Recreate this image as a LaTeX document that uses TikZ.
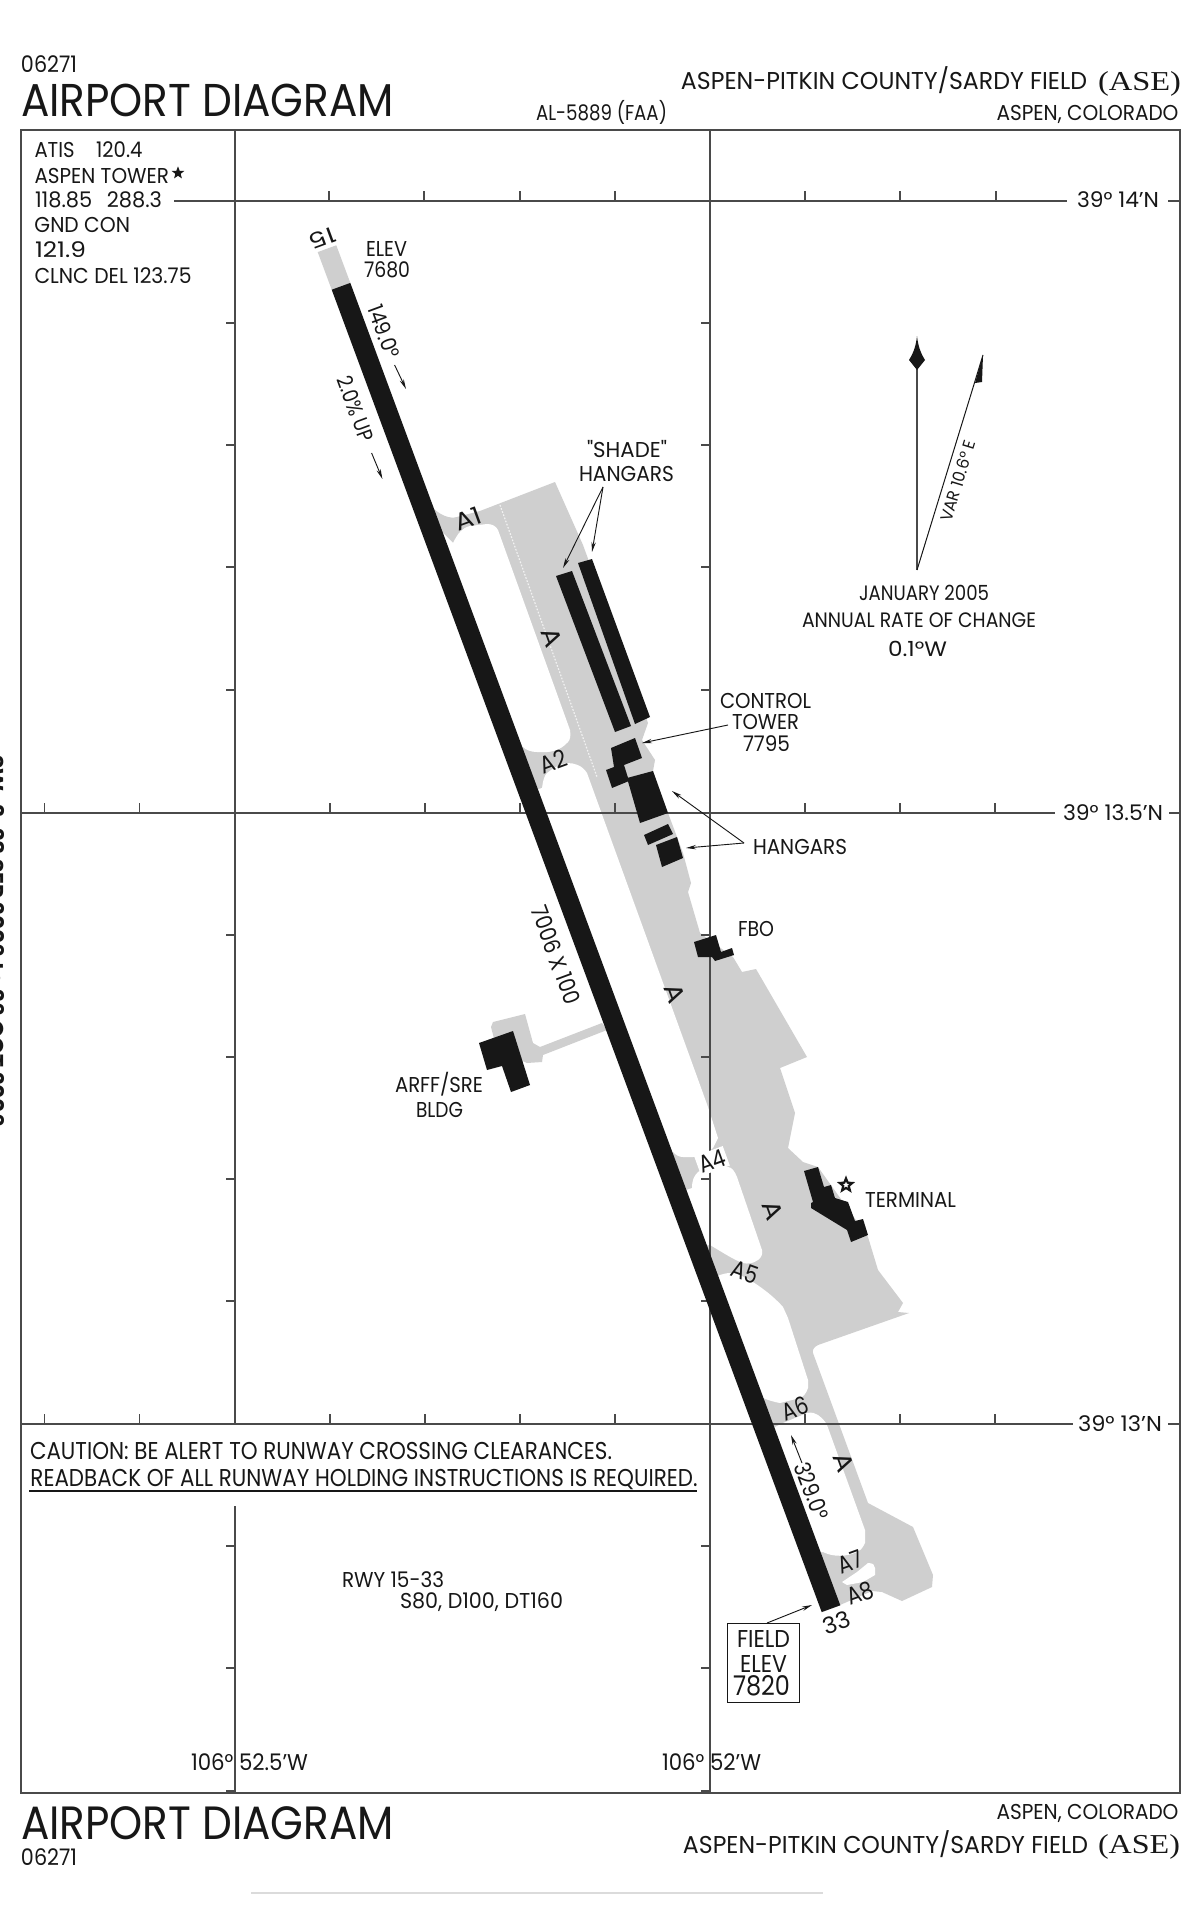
\documentclass[tikz,border=0pt]{standalone}
\usepackage{graphicx}
\usepackage{fontspec}
\setmainfont{Poppins}
\newfontfamily\asefont{Liberation Serif}
\newfontfamily\quotefont{Poppins}
\usetikzlibrary{arrows.meta,shapes.geometric}
\definecolor{ink}{HTML}{171717}
\definecolor{rule}{HTML}{4A4A4A}
\definecolor{pave}{HTML}{CFCFCF}
\newdimen\pxu \pxu=0.6pt
\newcommand\tx[3]{\fontsize{#1}{#1}\selectfont\resizebox{#2\pxu}{\height}{#3}}
\tikzset{
  lab/.style={inner sep=0pt,outer sep=0pt,text=ink,anchor=base west},
  labr/.style={lab,anchor=base east},
  rot/.style={inner sep=0pt,outer sep=0pt,text=ink,anchor=center,rotate=#1},
  grid/.style={draw=rule,line width=0.85pt},
  tick/.style={draw=rule,line width=0.8pt},
  paved/.style={fill=pave,draw=none},
  hole/.style={fill=white,draw=none},
  bldg/.style={fill=ink,draw=none},
  lead/.style={draw=ink,line width=0.55pt,-{Stealth[length=6pt,width=2.6pt]}},
}
\begin{document}
\begin{tikzpicture}[x=0.6pt,y=-0.6pt]
\useasboundingbox (0,0) rectangle (1200,1922);
\fill[white] (0,0) rectangle (1200,1922);

% pavement
\path[paved] (826,1608) -- (430,505) .. controls (440,516) and (450,519) .. (457,517) -- (480,511) -- (555,482) -- (583,545)
  -- (648,723) -- (642,740) -- (655,760) -- (653,771) -- (668,813) -- (683,853) -- (691,883) -- (688,892) -- (700,933)
  -- (733,957) -- (742,972) -- (756,969) -- (807,1057) -- (780,1068) -- (795,1113) -- (788,1148) -- (803,1162)
  -- (818,1167) -- (868,1237) -- (878,1270) -- (903,1303) -- (898,1312) -- (909,1313) -- (818,1345)
  .. controls (814,1347) and (812,1350) .. (813,1353) -- (868,1503) -- (913,1527) -- (933,1575) -- (932,1587) -- (902,1601)
  -- (882,1592) -- (872,1591) -- (840,1605) -- cycle;
% areas clear of pavement, runway side
\path[hole] (440,530) -- (453,543) .. controls (458,533) and (462,528) .. (470,526) -- (487,524) .. controls (492,524) and (496,526) .. (498,530)
  -- (570,730) .. controls (571,736) and (570,740) .. (568,742) .. controls (560,751) and (550,753) .. (537,752) .. controls (531,752) and (526,750) .. (523,747) -- (515,745) -- cycle;
\path[hole] (535,790) -- (542,788) .. controls (543,781) and (544,776) .. (547,773) .. controls (553,768) and (560,764) .. (567,763) .. controls (574,763) and (582,765) .. (587,773)
  -- (708,1107) -- (718,1138) -- (713,1148) .. controls (704,1156) and (695,1158) .. (683,1157) .. controls (679,1157) and (676,1155) .. (673,1152) -- (665,1150) -- cycle;
\path[hole] (680,1192) -- (692,1188) .. controls (692,1180) and (694,1176) .. (698,1172) .. controls (704,1168) and (715,1167) .. (728,1167) .. controls (732,1167) and (735,1172) .. (737,1177)
  -- (762,1250) .. controls (763,1254) and (761,1258) .. (758,1260) .. controls (752,1264) and (748,1264) .. (743,1263) .. controls (734,1260) and (722,1252) .. (710,1245) -- (700,1245) -- cycle;
\path[hole] (712,1278) -- (720,1275) .. controls (726,1273) and (728,1273) .. (733,1273) .. controls (745,1275) and (770,1292) .. (783,1307) -- (788,1318) -- (808,1380) -- (808,1388)
  .. controls (806,1394) and (803,1397) .. (800,1398) -- (780,1403) .. controls (774,1402) and (768,1400) .. (763,1398) -- (755,1398) -- cycle;
\path[hole] (768,1430) -- (775,1427) -- (783,1423) -- (807,1413) .. controls (812,1412) and (815,1413) .. (818,1415) .. controls (822,1418) and (825,1421) .. (827,1425)
  -- (865,1530) -- (865,1543) .. controls (862,1549) and (860,1551) .. (857,1552) .. controls (846,1557) and (833,1557) .. (823,1552) -- (812,1552) -- cycle;
\path[hole] (842,1582) -- (857,1572) -- (868,1563) .. controls (873,1563) and (875,1565) .. (875,1568) -- (875,1575) -- (863,1582) -- (847,1585) -- cycle;
% taxiway to ARFF/SRE
\path[paved] (607,1030) -- (543,1055) -- (542,1062) -- (527,1063) -- (497,1050) -- (491,1027) -- (493,1022) -- (525,1014) -- (533,1043) -- (540,1047) -- (602,1023) -- cycle;
% taxiway centre marking
\draw[white,line width=0.7pt,dash pattern=on 1pt off 1pt,opacity=0.75] (500,505) -- (597,777);

% grid
\draw[grid] (235,130) -- (235,1424) (235,1506) -- (235,1793);
\draw[grid] (710,130) -- (710,1793);
\draw[grid] (174,201) -- (1067,201) (1168,201) -- (1180,201);
\draw[grid] (21,813) -- (1055,813) (1169,813) -- (1180,813);
\draw[grid] (21,1424) -- (1073,1424) (1168,1424) -- (1180,1424);
\foreach \tickx in {329,424,520,615,710,805,900,996}
  \draw[tick] (\tickx,201) -- ++(0,-10);
\foreach \tickx in {44.5,139.5,235,330,425,520,615,710,805,900,995} {
  \draw[tick] (\tickx,813) -- ++(0,-10);
  \draw[tick] (\tickx,1424) -- ++(0,-10);
}
\foreach \ticky in {323,445,567,690,935,1057,1179,1301,1546,1668,1791} {
  \draw[tick] (235,\ticky) -- ++(-9,0);
  \draw[tick] (710,\ticky) -- ++(-9,0);
}
% frame
\draw[draw=rule,line width=1pt] (21,130) rectangle (1180,1793);

% buildings
\path[bldg] (556,576) -- (572,571) -- (631,726) -- (615,732) -- cycle;
\path[bldg] (578,563) -- (592,559) -- (650,717) -- (635,724) -- cycle;
\path[bldg] (611,748) -- (635,738) -- (642,758) -- (624,765) -- (629,781) -- (612,788) -- (606,770) -- (614,767) -- cycle;
\path[bldg] (627,778) -- (653,771) -- (668,813) -- (640,823) -- cycle;
\path[bldg] (644,835) -- (668,824) -- (673,834) -- (648,845) -- cycle;
\path[bldg] (656,845) -- (677,837) -- (683,858) -- (662,867) -- cycle;
\path[bldg] (694,942) -- (716,935) -- (721,952) -- (732,948) -- (734,955) -- (715,961) -- (712,957) -- (698,957) -- cycle;
\path[bldg] (804,1171) -- (818,1167) -- (824,1187) -- (831,1185) -- (835,1198) -- (848,1202) -- (855,1221) -- (863,1219) -- (868,1235) -- (851,1242) -- (847,1230) -- (811,1208) -- (811,1203) -- (813,1202) -- cycle;
\path[bldg] (479,1043) -- (513,1031) -- (530,1085) -- (511,1092) -- (502,1066) -- (487,1070) -- cycle;

% runway
\path[paved] (317.7,252.1) -- (336.3,245.3) -- (350.3,282.9) -- (331.7,289.7) -- cycle;
\path[fill=ink] (331.7,289.7) -- (350.3,282.9) -- (840.3,1605.3) -- (821.7,1612.1) -- cycle;

% compass
\draw[draw=rule,line width=0.7pt] (917,570) -- (917,365);
\path[fill=ink] (917,336) .. controls (918,345) and (920,352) .. (925,360) -- (917,370) -- (909,360) .. controls (914,352) and (916,345) .. (917,336) -- cycle;
\draw[draw=ink,line width=0.6pt] (917,570) -- (983,355);
\path[fill=ink] (983,355) -- (975,383) -- (982,382) -- cycle;
\node[rot=73] (var) at (958,481) {\tx{10}{84}{VAR 10.6° E}};
\node[lab,anchor=base] (jan) at (924,600) {\tx{12.5}{130}{JANUARY 2005}};
\node[lab,anchor=base] (annual) at (919,627) {\tx{12.5}{234}{ANNUAL RATE OF CHANGE}};
\node[lab,anchor=base] (rate) at (917.5,656) {\tx{12.5}{59}{0.1°W}};

% header
\node[lab] (num1) at (21,72.7) {\tx{13.7}{56}{06271}};
\node[lab] (title1) at (21,116.7) {\tx{27.6}{373}{AIRPORT DIAGRAM}};
\node[lab] (al) at (536,120.5) {\tx{12.9}{131}{AL-5889 (FAA)}};
\node[labr] (name1) at (1087,90) {\tx{14.6}{406}{ASPEN-PITKIN COUNTY/SARDY FIELD}};
\node[labr] (ase1) at (1181,91) {\asefont\tx{16.4}{83}{(ASE)}};
\node[labr] (city1) at (1178.5,120.5) {\tx{12.9}{182}{ASPEN, COLORADO}};

% footer
\node[lab] (title2) at (21,1839) {\tx{28}{373}{AIRPORT DIAGRAM}};
\node[lab] (num2) at (21,1865) {\tx{13.7}{56}{06271}};
\node[labr] (city2) at (1178.5,1819) {\tx{12.9}{182}{ASPEN, COLORADO}};
\node[labr] (name2) at (1088,1853) {\tx{14.6}{405}{ASPEN-PITKIN COUNTY/SARDY FIELD}};
\node[labr] (ase2) at (1180,1853) {\asefont\tx{16.4}{82}{(ASE)}};
\draw[draw=black!14,line width=0.8pt] (251,1893) -- (823,1893);

% communications
\node[lab] (atis) at (34.5,158) {\tx{12.9}{108}{ATIS\hspace{1.1em}120.4}};
\node[lab] (twr) at (34.5,183.3) {\tx{12.9}{134.5}{ASPEN TOWER}};
\node[star,star points=5,star point ratio=2.4,fill=ink,inner sep=0pt,minimum size=8pt] (twrstar) at (178,173) {};
\node[lab] (freq) at (35,208) {\tx{12.9}{127}{118.85\hspace{.7em}288.3}};
\node[lab] (gnd) at (34.5,233) {\tx{12.9}{95.5}{GND CON}};
\node[lab] (gndf) at (35,258) {\tx{12.9}{51}{121.9}};
\node[lab] (clnc) at (34.5,283) {\tx{12.9}{157}{CLNC DEL 123.75}};

% latitude, longitude
\node[lab] (lat1) at (1077,207.5) {\tx{12.9}{82}{39° 14'N}};
\node[lab] (lat2) at (1063,820) {\tx{12.9}{100}{39° 13.5'N}};
\node[lab] (lat3) at (1078,1431) {\tx{12.9}{84}{39° 13'N}};
\node[lab] (lon1) at (191,1770) {\tx{13.7}{117}{106° 52.5'W}};
\node[lab] (lon2) at (662,1770) {\tx{13.7}{99}{106° 52'W}};

% caution, runway data
\node[lab] (c1) at (30,1459) {\tx{14.6}{582}{CAUTION: BE ALERT TO RUNWAY CROSSING CLEARANCES.}};
\node[lab] (c2) at (30.5,1486) {\tx{14.6}{667}{READBACK OF ALL RUNWAY HOLDING INSTRUCTIONS IS REQUIRED.}};
\draw[draw=ink,line width=0.85pt] (29,1491) -- (697,1491);
\node[lab] (rwy) at (342,1587) {\tx{12.9}{102}{RWY 15-33}};
\node[lab] (wt) at (400,1608) {\tx{12.9}{163}{S80, D100, DT160}};

% runway labels
\node[rot=200.3] (r15) at (322.6,238) {\tx{12.9}{26}{15}};
\node[rot=20.3] (r33) at (837,1623) {\tx{13.7}{28}{33}};
\node[lab] (elev) at (366,256.7) {\tx{12.9}{41}{ELEV}};
\node[lab] (elevn) at (364,277.3) {\tx{12.9}{46}{7680}};
\node[rot=-69.7] (hdg1) at (384,331.5) {\tx{12.9}{55}{149.0°}};
\coordinate (hdg1a) at (394.6,365);
\coordinate (hdg1b) at (406,389);
\draw[lead] (hdg1a) -- (hdg1b);
\node[rot=-69.7] (grad) at (355.7,409) {\tx{12.9}{68}{2.0\% UP}};
\coordinate (grada) at (371.6,453);
\coordinate (gradb) at (382.4,479);
\draw[lead] (grada) -- (gradb);
\node[rot=-69.7] (dim) at (556,955) {\tx{13.7}{103}{7006 X 100}};
\node[rot=-69.7] (hdg2) at (812,1491) {\tx{13.7}{59}{329.0°}};
\coordinate (hdg2a) at (802,1463);
\coordinate (hdg2b) at (791,1435);
\draw[lead] (hdg2a) -- (hdg2b);

% taxiway labels
\node[rot=20] (a1) at (468,519) {\tx{14.6}{27}{A1}};
\node[rot=20] (a2) at (553,761) {\tx{14.6}{27}{A2}};
\node[rot=20,fill=white,inner sep=1pt] (a4) at (712,1161) {\tx{14.6}{27}{A4}};
\node[rot=-20] (a5) at (745,1272) {\tx{14.6}{27}{A5}};
\node[rot=20] (a6) at (795,1408) {\tx{14.6}{27}{A6}};
\node[rot=20] (a7) at (850,1562) {\tx{14.6}{25}{A7}};
\node[rot=20] (a8) at (860,1593) {\tx{14.6}{27}{A8}};
\node[rot=-70] (ta) at (552,637) {\tx{15}{19}{A}};
\node[rot=-70] (tb) at (675,993) {\tx{15}{19}{A}};
\node[rot=-70] (tc) at (773,1210) {\tx{15}{19}{A}};
\node[rot=-70] (td) at (844,1462) {\tx{15}{19}{A}};

% building labels and leaders
\node[lab] (sh1) at (587,457) {\quotefont\tx{12.9}{80}{"SHADE"}};
\node[lab] (sh2) at (579,481) {\tx{12.9}{95}{HANGARS}};
\coordinate (sha) at (603,487);
\coordinate (shb) at (563,568);
\coordinate (shc) at (592,552);
\draw[lead] (sha) -- (shb);
\draw[lead] (sha) -- (shc);
\node[lab] (ct1) at (720,708) {\tx{12.9}{91}{CONTROL}};
\node[lab] (ct2) at (732,729) {\tx{12.9}{67}{TOWER}};
\node[lab] (ct3) at (743,751) {\tx{12.9}{47}{7795}};
\coordinate (cta) at (728,725);
\coordinate (ctb) at (642,743);
\draw[lead] (cta) -- (ctb);
\node[lab] (hg) at (753,854) {\tx{12.9}{94}{HANGARS}};
\coordinate (hga) at (744,843);
\coordinate (hgb) at (672,791);
\coordinate (hgc) at (686,848);
\draw[lead] (hga) -- (hgb);
\draw[lead] (hga) -- (hgc);
\node[lab] (fbo) at (738,936) {\tx{12.9}{36}{FBO}};
\node[lab] (term) at (865,1207.5) {\tx{12.9}{91}{TERMINAL}};
\node[star,star points=5,star point ratio=2.3,draw=ink,fill=white,line width=1.3pt,inner sep=0pt,minimum size=8pt] (twrmark) at (846,1185) {};
\node[lab] (ar1) at (395,1092) {\tx{12.9}{88}{ARFF/SRE}};
\node[lab] (ar2) at (416,1117) {\tx{12.9}{47}{BLDG}};

% field elevation
\node[draw=ink,line width=0.6pt,minimum width=43.2pt,minimum height=47.4pt,inner sep=0pt] (fe) at (763,1662.5) {};
\node[lab] (fe1) at (737,1647) {\tx{14.6}{53}{FIELD}};
\node[lab] (fe2) at (740,1672) {\tx{14.6}{47}{ELEV}};
\node[lab] (fe3) at (733,1695) {\tx{16.3}{57}{7820}};
\coordinate (fea) at (767,1623);
\coordinate (feb) at (812,1605);
\draw[lead] (fea) -- (feb);

% edition note cut off by the page edge
\begin{scope}
\clip (0,0) rectangle (1200,1922);
\node[lab,rotate=-90] (note) at (-11,755) {\bfseries\tx{12.9}{372}{SW-3, 28 SEP 2006 to 26 OCT 2006}};
\end{scope}
\end{tikzpicture}
\end{document}
